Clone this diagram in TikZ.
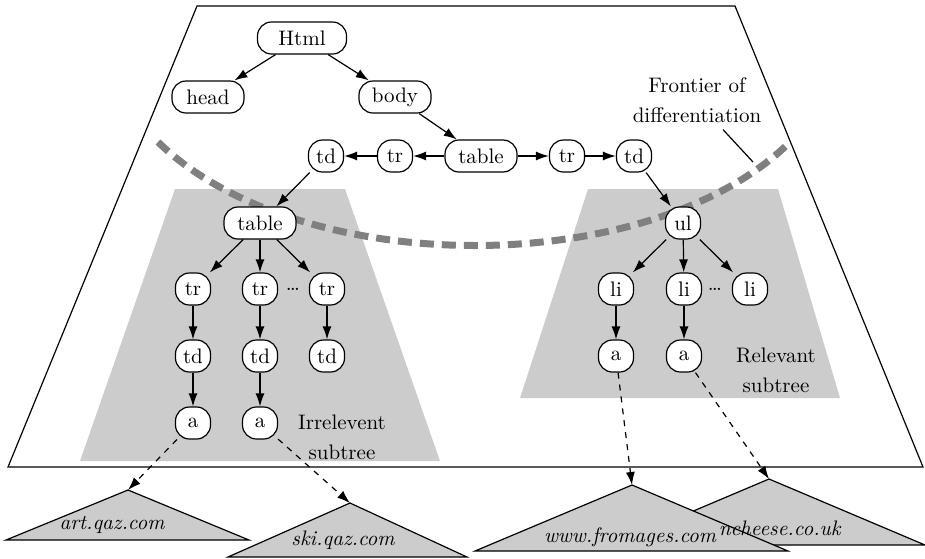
\documentclass[tikz,border=0pt]{standalone}
\usetikzlibrary{arrows.meta}

\begin{document}
\begin{tikzpicture}[x=0.5pt,y=-0.5pt,
  font=\fontsize{10.5}{15}\selectfont,
  tag/.style={draw,fill=white,rounded corners=7pt,minimum height=16pt,
    minimum width=17.5pt,inner xsep=3.5pt,inner ysep=0pt,line width=0.6pt},
  link/.style={-{Latex[length=6.5pt,width=4.5pt]},line width=0.6pt},
  site/.style={draw,fill=gray!40,line width=0.6pt},
  sitename/.style={font=\fontsize{10.5}{15}\selectfont\itshape}]

\useasboundingbox (0,0) rectangle (925,558);

% page and the two subtrees
\draw[line width=0.6pt] (197,6) -- (735,6) -- (923,467) -- (8,467) -- cycle;
\fill[gray!40] (175,189) -- (345,189) -- (440,461) -- (80,461) -- cycle;
\fill[gray!40] (588,189) -- (778,189) -- (840,398) -- (520,398) -- cycle;

% frontier
\draw[gray,line width=3.5pt,dash pattern=on 7pt off 4pt]
  (158,142) .. controls (300,280) and (650,280) .. (790,142);
\coordinate (cut) at (753,162);
\node[align=center] (frontier) at (697,100) {Frontier of\\differentiation};
\draw[line width=0.6pt] ([xshift=13pt]frontier.south) -- (cut);

% top of the document tree
\node[tag,minimum width=44.5pt] (html) at (302,38) {Html};
\node[tag,minimum width=36pt] (head) at (208,97) {head};
\node[tag,minimum width=36pt] (body) at (395,97) {body};
\node[tag,minimum width=36pt] (table) at (481,156) {table};
\node[tag] (trl) at (395,156) {tr};
\node[tag] (tdl) at (326,156) {td};
\node[tag] (trr) at (567,156) {tr};
\node[tag] (tdr) at (634,156) {td};

\draw[link] (html) -- (head);
\draw[link] (html) -- (body);
\draw[link] (body) -- (table);
\draw[link] (table) -- (trl);
\draw[link] (trl) -- (tdl);
\draw[link] (table) -- (trr);
\draw[link] (trr) -- (tdr);

% irrelevant subtree
\node[tag,minimum width=36pt] (tab) at (260,223) {table};
\foreach \i/\x in {1/193,2/260,3/327} {
  \node[tag] (tr\i) at (\x,289) {tr};
  \node[tag] (td\i) at (\x,356) {td};
  \draw[link] (tab) -- (tr\i);
  \draw[link] (tr\i) -- (td\i);
}
\node (dotsl) at (293,289) {\dots};
\node[tag] (a1) at (193,423) {a};
\node[tag] (a2) at (260,423) {a};
\draw[link] (td1) -- (a1);
\draw[link] (td2) -- (a2);
\draw[link] (tdl) -- (tab);
\node[align=center] (irr) at (342,437) {Irrelevent\\subtree};

% relevant subtree
\node[tag] (ul) at (683,223) {ul};
\foreach \i/\x in {1/616,2/684,3/750} {
  \node[tag] (li\i) at (\x,289) {li};
  \draw[link] (ul) -- (li\i);
}
\node (dotsr) at (715,289) {\dots};
\node[tag] (a3) at (616,356) {a};
\node[tag] (a4) at (684,356) {a};
\draw[link] (li1) -- (a3);
\draw[link] (li2) -- (a4);
\draw[link] (tdr) -- (ul);
\node[align=center] (rel) at (776,370) {Relevant\\subtree};

% linked sites
\coordinate (art) at (128,490);
\coordinate (ski) at (350,503);
\coordinate (fro) at (632,485);
\coordinate (fre) at (769,479);
\draw[site] (art) -- (249,540) -- (6,540) -- cycle;
\node[sitename] (artname) at (112,525) {art.qaz.com};
\draw[site] (ski) -- (467,557) -- (228,557) -- cycle;
\node[sitename] (skiname) at (343,540) {ski.qaz.com};
\draw[site] (fre) -- (925,545) -- (613,545) -- cycle;
\draw[site] (fro) -- (788,551) -- (475,551) -- cycle;
\node[sitename] (froname) at (630,537) {www.fromages.com};
\node[sitename,anchor=east,inner xsep=1pt] (frename) at (843,528) {ncheese.co.uk};

\draw[link,dashed] (a1) -- (art);
\draw[link,dashed] (a2) -- (ski);
\draw[link,dashed] (a3) -- (fro);
\draw[link,dashed] (a4) -- (fre);
\end{tikzpicture}
\end{document}
